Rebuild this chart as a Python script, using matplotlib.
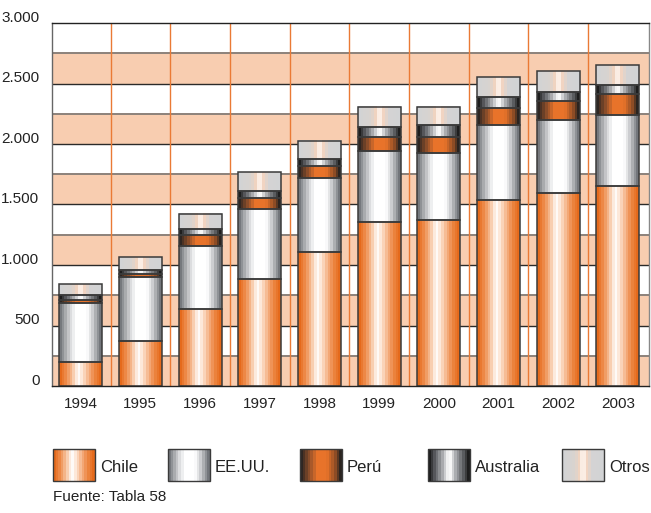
import numpy as np
import matplotlib.pyplot as plt
from matplotlib.colors import LinearSegmentedColormap
from matplotlib.transforms import ScaledTranslation

plt.rcParams["font.family"] = ["Liberation Sans Narrow", "Liberation Sans", "DejaVu Sans"]

years = ["1994", "1995", "1996", "1997", "1998", "1999", "2000", "2001", "2002", "2003"]
chile = [196, 369, 635, 882, 1105, 1358, 1369, 1535, 1598, 1653]
eeuu = [487, 529, 525, 581, 611, 584, 559, 622, 600, 587]
peru = [28, 27, 85, 93, 100, 113, 132, 138, 157, 171]
australia = [41, 34, 50, 58, 57, 83, 94, 96, 78, 79]
otros = [88, 105, 126, 157, 152, 170, 154, 160, 167, 165]

series_names = ["Chile", "EE.UU.", "Perú", "Australia", "Otros"]
series_vals = [chile, eeuu, peru, australia, otros]

y_ticks = [0, 500, 1000, 1500, 2000, 2500, 3000]
y_labels = ["0", "500", "1.000", "1.500", "2.000", "2.500", "3.000"]

# horizontal gradient stops (left -> right) per series
grad_stops = {
    "Chile": [(0.0, "#e56a1c"), (0.15, "#ee8c4c"), (0.3, "#f6c09a"), (0.45, "#ffffff"),
              (0.55, "#fde4d2"), (0.7, "#f5b184"), (0.85, "#ec8541"), (1.0, "#e56a1c")],
    "EE.UU.": [(0.0, "#76797e"), (0.12, "#a4a6aa"), (0.28, "#e2e3e4"), (0.4, "#ffffff"),
               (0.65, "#ffffff"), (0.78, "#d6d7d9"), (0.9, "#9ea0a4"), (1.0, "#73767b")],
    "Perú": [(0.0, "#2e2622"), (0.2, "#8a4d2a"), (0.4, "#e8732a"), (0.65, "#e8732a"),
             (0.85, "#9a5226"), (1.0, "#2a2420")],
    "Australia": [(0.0, "#1e1e1e"), (0.15, "#5c5e62"), (0.32, "#a2a4a7"), (0.47, "#f2f2f2"),
                  (0.52, "#ffffff"), (0.66, "#aeb0b3"), (0.85, "#626468"), (1.0, "#1e1e1e")],
    "Otros": [(0.0, "#d2d3d5"), (0.3, "#d9d3cf"), (0.42, "#f4d3bd"), (0.5, "#ffffff"),
              (0.58, "#f6d5bf"), (0.72, "#d5d4d4"), (1.0, "#d2d3d5")],
}
cmaps = {k: LinearSegmentedColormap.from_list(k, v) for k, v in grad_stops.items()}
N_STEPS = 16
grad = np.linspace(0, 1, N_STEPS).reshape(1, -1)


def grad_rect(axis, x0, x1, y0, y1, name, edge="#3a3a3a", lw=1.1, z=3):
    axis.imshow(grad, cmap=cmaps[name], extent=(x0, x1, y0, y1), aspect="auto",
                interpolation="nearest", zorder=z)
    axis.add_patch(plt.Rectangle((x0, min(y0, y1)), x1 - x0, abs(y1 - y0), fill=False,
                                 edgecolor=edge, linewidth=lw, zorder=z + 0.1))


fig = plt.figure(figsize=(6.51, 5.13), dpi=100)
ax = fig.add_axes([52 / 651, 127 / 513, 597 / 651, 363 / 513])

x = np.arange(len(years))
width = 0.72

# background bands and grid lines
for v in range(0, 3000, 500):
    ax.axhspan(v, v + 250, color="#f8cdb0", zorder=0, lw=0)
for v in range(250, 3000, 250):
    if v % 500 == 0:
        ax.axhline(v, color="#2a2a2a", lw=1.0, zorder=1)
    else:
        ax.axhline(v, color="#8c817a", lw=1.4, zorder=1)
for xi in x[:-1]:
    ax.axvline(xi + 0.5, color="#ea7a35", lw=1.0, zorder=1)

bottom = np.zeros(len(years))
for name, vals in zip(series_names, series_vals):
    vals = np.array(vals, dtype=float)
    for xi, b, h in zip(x, bottom, vals):
        grad_rect(ax, xi - width / 2, xi + width / 2, b, b + h, name)
    bottom += vals

ax.set_xlim(-0.48, len(years) - 0.48)
ax.set_ylim(0, 3000)
ax.set_xticks(x)
ax.set_xticklabels(years, fontsize=11, color="#222222")
ax.set_yticks(y_ticks)
ax.set_yticklabels(y_labels, fontsize=11, color="#222222")
ax.tick_params(axis="both", length=0)
ax.tick_params(axis="y", pad=9)
ax.tick_params(axis="x", pad=8)
shift = ScaledTranslation(0, 5 / 72, fig.dpi_scale_trans)
for lab in ax.get_yticklabels():
    lab.set_transform(lab.get_transform() + shift)

ax.spines["left"].set_color("#666666")
ax.spines["bottom"].set_color("#222222")
ax.spines["top"].set_color("#222222")
ax.spines["right"].set_color("#888888")
for s in ax.spines.values():
    s.set_linewidth(1.0)
    s.set_zorder(5)

# legend drawn in pixel space below the plot
lg = fig.add_axes([0, 0, 1, 1])
lg.set_xlim(0, 651)
lg.set_ylim(513, 0)
lg.axis("off")
leg_x = [53, 168, 300, 428, 562]
for lx, name in zip(leg_x, series_names):
    grad_rect(lg, lx, lx + 42, 481, 449, name, lw=1.0)
    lg.text(lx + 47, 467, name, fontsize=12, va="center", ha="left", color="#222222",
            family=["Liberation Sans", "DejaVu Sans"])
lg.set_xlim(0, 651)
lg.set_ylim(513, 0)

fig.text(53 / 651, 1 - 497 / 513, "Fuente: Tabla 58", fontsize=11, va="center", ha="left",
         color="#222222", family=["Liberation Sans", "DejaVu Sans"])

fig.savefig("out.png", dpi=100)
